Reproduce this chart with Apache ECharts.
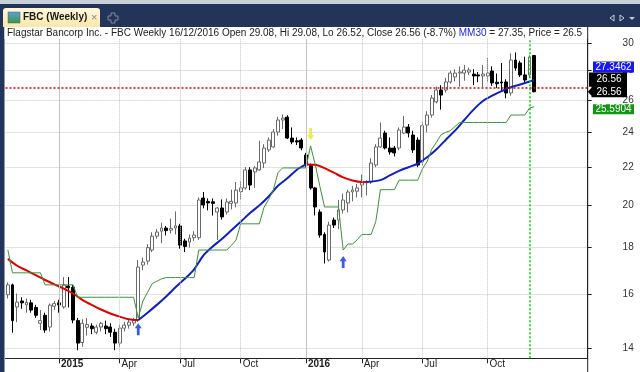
<!DOCTYPE html>
<html><head><meta charset="utf-8">
<script src="https://cdn.jsdelivr.net/npm/echarts@6/dist/echarts.min.js"></script>
<style>html,body{margin:0;padding:0;background:#fff;overflow:hidden}#c{width:640px;height:372px}</style>
</head><body><div id="c"></div>
<script>
// ---------- DATA ----------
// weekly categories (Fridays), incl. empty weeks on the right
const categories = [];
(function () {
  let t = Date.UTC(2014, 9, 17);
  for (let i = 0; i < 125; i++) { categories.push(new Date(t).toISOString().slice(0, 10)); t += 7 * 864e5; }
})();
const tickIndex = [11, 24, 37, 50, 64, 76, 89, 103];
const tickLabels = ['2015', 'Apr', 'Jul', 'Oct', '2016', 'Apr', 'Jul', 'Oct'];
const yearTickIndex = [11, 64];
const priceTicks = [14, 16, 18, 20, 22, 24, 26, 28, 30];

const opens = [16.0,16.4,15.52,15.75,15.6,15.68,15.5,14.9,15.2,14.76,15.55,15.68,15.52,16.35,16.3,15.0,14.2,14.75,14.8,14.57,14.76,14.8,14.76,14.57,14.18,14.72,14.83,14.91,
15.02,17.23,17.4,17.89,18.52,18.75,18.9,18.8,18.9,19.0,18.3,18.25,18.45,18.45,20.37,20.2,20.18,19.67,19.87,19.67,20.1,20.12,20.7,20.89,21.85,21.74,21.85,22.23,22.97,23.14,24.02,24.75,24.93,23.66,23.5,23.54,
22.68,22.12,20.89,19.67,18.6,17.45,19.28,19.28,19.77,20.12,20.68,20.72,21.04,21.15,21.2,22.12,23.14,23.96,23.08,23.08,23.08,23.96,24.32,23.84,23.54,22.3,24.44,25.06,25.9,26.68,26.68,27.22,27.56,27.83,27.83,27.9,
27.76,27.7,27.63,27.63,27.97,27.2,27.22,27.22,26.48,28.75,28.54,27.7,27.7,29.08];
const highs = [16.5,16.45,16.05,15.9,15.85,15.8,15.6,15.4,15.3,15.65,15.75,15.8,16.72,16.72,16.4,15.1,15.05,15.1,14.9,14.85,14.95,15.0,14.9,14.7,14.85,14.95,15.05,15.1,
17.45,17.55,18.15,18.7,18.85,19.15,19.0,19.35,19.7,19.1,18.4,18.6,18.75,20.4,20.68,20.35,20.35,19.92,20.3,20.35,20.8,21.2,21.25,22.0,22.0,22.05,23.5,23.3,23.7,24.2,24.95,25.1,25.05,24.3,23.7,23.66,
22.8,22.2,20.95,19.8,18.7,19.2,19.4,20.27,20.6,20.8,21.0,21.1,21.6,21.3,22.5,23.3,24.6,24.1,23.7,23.2,24.3,25.0,24.5,24.1,23.7,24.6,25.3,26.35,26.9,27.0,27.5,28.0,28.1,28.3,28.4,28.2,
28.1,27.9,28.4,28.9,28.3,27.8,28.54,27.4,29.24,29.3,28.7,28.99,29.1,29.08];
const lows = [15.85,14.55,14.94,15.45,15.3,15.3,15.1,14.65,14.55,14.6,15.4,15.3,15.45,15.5,14.9,13.93,14.05,14.45,14.5,14.5,14.6,14.5,14.4,13.93,14.05,14.6,14.7,14.8,
14.95,17.01,17.25,17.8,18.4,18.2,18.55,18.65,18.6,17.95,17.8,18.0,18.3,18.35,19.85,19.75,19.5,18.34,19.3,19.55,19.8,19.9,20.3,20.8,20.78,20.89,21.8,21.95,22.85,23.1,23.8,24.2,23.6,23.3,23.25,22.95,
22.0,20.8,19.5,18.45,17.3,17.38,18.9,18.85,19.6,19.65,20.2,20.4,20.4,20.5,21.1,22.0,23.1,23.0,22.7,22.6,22.95,23.9,23.7,22.8,22.0,22.1,24.0,24.9,25.8,25.4,26.5,27.1,27.25,26.9,27.3,27.7,
27.0,27.2,26.85,27.2,26.95,26.8,26.6,26.13,26.3,28.0,27.55,27.1,27.5,26.52];
const closes = [16.4,15.0,15.71,15.68,15.7,15.4,15.2,15.0,14.65,15.59,15.65,15.6,16.39,16.28,15.02,14.18,14.9,14.85,14.7,14.76,14.9,14.7,14.57,14.18,14.72,14.83,14.94,15.02,
17.14,17.36,18.0,18.52,18.71,18.9,18.78,18.88,19.0,18.11,18.05,18.43,18.57,20.27,20.02,20.12,20.1,19.87,19.43,20.17,20.2,20.78,20.89,21.85,21.04,21.96,22.29,23.08,23.54,24.02,24.75,24.87,23.66,23.43,23.43,23.08,
22.12,20.89,19.92,18.57,17.8,19.04,19.04,19.77,20.27,20.68,20.78,20.89,21.2,21.2,22.23,23.14,23.66,23.08,22.85,22.8,24.14,24.32,23.96,22.97,22.12,24.4,25.06,26.15,26.68,26.34,27.22,27.83,27.83,27.9,28.04,28.04,
27.63,27.63,27.76,27.83,27.15,27.1,27.15,26.48,28.75,28.18,27.7,27.35,28.97,26.56];

// 30-week moving average (read every other week), split by trend colour
const maFallingA = [[0,17.5],[2,17.2],[4,17.0],[6,16.8],[8,16.6],[10,16.42],[12,16.25],[14,16.05],[16,15.8],[18,15.6],[20,15.42],[22,15.27],[24,15.15],[26,15.05],[28,15.02]];
const maRisingA = [[28,15.02],[30,15.3],[32,15.6],[34,15.93],[36,16.3],[38,16.65],[40,17.05],[42,17.65],[44,18.05],[46,18.4],[48,18.8],[50,19.2],[52,19.62],[54,20.0],[56,20.45],[58,21.0],[60,21.4],[62,21.85],[64,22.15]];
const maFallingB = [[64,22.15],[66,22.13],[68,21.95],[70,21.7],[72,21.45],[74,21.28],[76,21.2],[77,21.2]];
const maRisingB = [[77,21.2],[80,21.3],[82,21.55],[84,21.8],[86,22.0],[88,22.2],[90,22.55],[92,23.0],[94,23.55],[96,24.1],[98,24.75],[100,25.4],[102,25.95],[104,26.3],[106,26.6],[108,26.87],[110,27.05],[112,27.25],[113,27.35]];

// trailing stop (green)
const stopValues = [17.9,16.9,16.9,16.9,16.9,16.9,16.9,16.9,16.4,16.4,16.4,16.4,16.4,16.4,16.4,15.9,15.9,15.9,15.9,15.9,15.9,15.9,15.9,15.9,15.9,15.9,15.9,15.9,
15.1,15.75,16.1,16.45,16.55,16.65,16.7,16.7,16.7,16.7,16.7,16.7,16.7,17.89,17.89,17.89,17.89,17.89,17.89,17.89,18.1,18.34,19.1,19.1,19.1,19.1,19.1,19.9,20.3,20.78,21.7,21.96,21.96,21.96,21.96,21.96,
21.96,23.2,22.15,20.97,19.92,19.92,19.92,19.92,17.89,18.16,18.16,18.35,18.6,18.6,18.6,19.2,20.8,20.8,20.8,20.8,21.3,21.3,21.3,21.3,21.3,21.9,22.3,23.0,23.4,23.85,24.0,24.1,24.35,24.6,24.6,24.6,
24.6,24.6,24.6,24.6,24.6,24.6,24.6,24.6,25.06,25.06,25.06,25.06,25.5,25.59];

const buySignals = [[28, 14.68], [72, 17.36]];
const sellSignals = [[65, 23.9]];
const priceLine = 26.8;
const cursorIndex = 112;
const lastMA = 27.3462, lastClose = 26.56, lastStop = 25.5904;
const titleMain = 'Flagstar Bancorp Inc. - FBC Weekly 16/12/2016 Open 29.08, Hi 29.08, Lo 26.52, Close 26.56 (-8.7%) ';
const titleTail = ' = 27.35, Price = 26.5';

// ---------- CHART ----------
const FONT = '"Liberation Sans", Arial, sans-serif';
const chart = echarts.init(document.getElementById('c'), null, { renderer: 'canvas' });
const candleData = opens.map((o, i) => [o, closes[i], lows[i], highs[i]]);
const tickFn = (i) => tickIndex.indexOf(i) >= 0;
const arrowPath = 'path://M4,0 L8,6 L5.6,6 L5.6,14 L2.4,14 L2.4,6 L0,6 Z';

const gridLines = tickIndex.map(i => ({
  xAxis: categories[i],
  lineStyle: yearTickIndex.indexOf(i) >= 0 ? { type: 'solid', color: '#c4c4c4', width: 1 } : { type: 'dotted', color: '#c4c4c4', width: 1 }
}));

function maSeries(data, color) {
  return { type: 'line', data: data, showSymbol: false, smooth: 0.3, z: 4,
    lineStyle: { color: color, width: 2 }, itemStyle: { color: color }, silent: true };
}

const option = {
  animation: false,
  backgroundColor: '#ffffff',
  grid: { left: 5.5, right: 52.3, top: 39, bottom: 13.7, containLabel: false, outerBoundsMode: 'none' },
  xAxis: {
    type: 'category', data: categories, boundaryGap: true,
    axisLine: { show: true, lineStyle: { color: '#222', width: 1 } },
    axisTick: { show: true, interval: tickFn, alignWithLabel: true, length: 5, lineStyle: { color: '#222' } },
    axisLabel: {
      show: true, interval: tickFn, align: 'left', margin: 1, padding: [0, 0, 0, 2],
      fontSize: 10, fontFamily: FONT, color: '#222',
      formatter: (v, i) => {
        const k = tickIndex.indexOf(i);
        if (k < 0) return '';
        return /^\d{4}$/.test(tickLabels[k]) ? '{y|' + tickLabels[k] + '}' : tickLabels[k];
      },
      rich: { y: { fontWeight: 'bold', fontSize: 10, fontFamily: FONT, color: '#222' } }
    },
    splitLine: { show: false }
  },
  yAxis: {
    type: 'log', logBase: 10, position: 'right', min: 13.652, max: 30.30, scale: true,
    axisLine: { show: true, lineStyle: { color: '#222', width: 1 } },
    axisTick: { show: true, inside: false, length: 4, customValues: priceTicks, lineStyle: { color: '#222' } },
    axisLabel: { show: true, customValues: priceTicks, align: 'right', margin: 46, fontSize: 10, fontFamily: FONT, color: '#333',
      formatter: v => String(Math.round(v)) },
    splitLine: { show: true, lineStyle: { type: 'dotted', color: '#c4c4c4', width: 1 } }
  },
  series: [
    { type: 'scatter', data: [], z: 1, silent: true,
      markLine: { silent: true, symbol: 'none', label: { show: false }, animation: false,
        data: gridLines.concat([
          { yAxis: priceLine, lineStyle: { type: [2, 2], color: '#e00000', width: 1.5 } },
          { xAxis: categories[cursorIndex], lineStyle: { type: [2, 2], color: '#00cc00', width: 1.5 } }
        ]) } },
    { type: 'candlestick', data: candleData, barWidth: 3.4, z: 3,
      itemStyle: { color: '#ffffff', color0: '#000000', borderColor: '#6a6a6a', borderColor0: '#000000', borderWidth: 1 } },
    maSeries(maFallingA, '#e00000'),
    maSeries(maRisingA, '#1020c0'),
    maSeries(maFallingB, '#e00000'),
    maSeries(maRisingB, '#1020c0'),
    { type: 'line', data: stopValues, showSymbol: false, z: 4, silent: true,
      lineStyle: { color: '#3a923a', width: 1 } },
    { type: 'scatter', data: buySignals, symbol: arrowPath, symbolSize: [7, 12], z: 6,
      itemStyle: { color: '#1030e8' } },
    { type: 'scatter', data: sellSignals, symbol: arrowPath, symbolSize: [7, 12], symbolRotate: 180, z: 6,
      itemStyle: { color: '#f2e21a' } }
  ],
  graphic: [
    { type: 'rect', id: 'tb', shape: { x: 0, y: 0, width: 640, height: 4 }, style: { fill: '#c8d0da' }, z: 100 },
    { type: 'rect', id: 'navy', shape: { x: 0, y: 4, width: 640, height: 23 }, style: { fill: '#22345a' }, z: 100 },
    { type: 'rect', id: 'lb', shape: { x: 0, y: 27, width: 4.5, height: 345 }, style: { fill: '#22345a' }, z: 100 },
    { type: 'rect', id: 'tab', shape: { x: 3, y: 8, width: 97, height: 19, r: [3, 3, 0, 0] },
      style: { fill: new echarts.graphic.LinearGradient(0, 0, 0, 1, [{ offset: 0, color: '#fff8de' }, { offset: 1, color: '#fae7a8' }]) }, z: 101 },
    { type: 'rect', id: 'icon', shape: { x: 8, y: 12, width: 12, height: 11 },
      style: { fill: new echarts.graphic.LinearGradient(0, 0, 0, 1, [{ offset: 0, color: '#5aa0e0' }, { offset: 1, color: '#3a9a3a' }]), stroke: '#557', lineWidth: 0.5 }, z: 102 },
    { type: 'text', id: 'tabtxt', x: 23, y: 17.5, style: { text: 'FBC (Weekly)', font: 'bold 10px ' + FONT, fill: '#1a1a1a', verticalAlign: 'middle' }, z: 102 },
    { type: 'text', id: 'tabx', x: 91, y: 17.5, style: { text: '×', font: '11px ' + FONT, fill: '#888', verticalAlign: 'middle' }, z: 102 },
    { type: 'polygon', id: 'plus', shape: { points: [[111,13],[115,13],[115,16],[118,16],[118,20],[115,20],[115,23],[111,23],[111,20],[108,20],[108,16],[111,16]] },
      style: { fill: 'none', stroke: '#8a8a9a', lineWidth: 1 }, z: 102 },
    { type: 'polygon', id: 'nl', shape: { points: [[614,15],[610,18],[614,21]] }, style: { fill: 'none', stroke: '#c8ccd8' }, z: 102 },
    { type: 'polygon', id: 'nr', shape: { points: [[620,15],[624,18],[620,21]] }, style: { fill: 'none', stroke: '#c8ccd8' }, z: 102 },
    { type: 'polygon', id: 'nd', shape: { points: [[629,17],[635,17],[632,20]] }, style: { fill: '#c8ccd8' }, z: 102 },
    { type: 'rect', id: 'tbar', shape: { x: 4.5, y: 27, width: 583, height: 12 }, style: { fill: '#ffffff' }, z: 100 },
    { type: 'text', id: 'title', x: 7, y: 33.5, z: 101,
      style: { text: '{a|' + titleMain + '}{b|MM30}{a|' + titleTail + '}', verticalAlign: 'middle',
        rich: { a: { font: '10px ' + FONT, fill: '#222' }, b: { font: '10px ' + FONT, fill: '#2424e0' } } } },
    { type: 'line', id: 'axup', shape: { x1: 587.7, y1: 27, x2: 587.7, y2: 372 }, style: { stroke: '#222', lineWidth: 1 }, z: 101 }
  ]
};
chart.setOption(option);

// right-axis value boxes positioned with the library's y scale
const yOf = v => chart.convertToPixel({ yAxisIndex: 0 }, v);
const yMA = yOf(lastMA), yC = yOf(lastClose), yS = yOf(lastStop);
const boxFont = '10px ' + FONT;
chart.setOption({ graphic: [
  { type: 'rect', id: 'bMA', shape: { x: 593, y: yMA - 18.6, width: 41, height: 11 }, style: { fill: '#1818f0' }, z: 110 },
  { type: 'text', id: 'tMA', x: 613.5, y: yMA - 13, style: { text: lastMA.toFixed(4), font: boxFont, fill: '#fff', align: 'center', verticalAlign: 'middle' }, z: 111 },
  { type: 'polygon', id: 'bC', shape: { points: [[589, yC - 19.3], [627, yC - 19.3], [627, yC + 5.5], [591.5, yC + 5.5], [591.5, yC + 4], [587.8, yC], [591.5, yC - 4], [591.5, yC - 5], [589, yC - 5]] }, style: { fill: '#000' }, z: 110 },
  { type: 'text', id: 'tC1', x: 609, y: yC - 12.5, style: { text: lastClose.toFixed(2), font: boxFont, fill: '#fff', align: 'center', verticalAlign: 'middle' }, z: 111 },
  { type: 'text', id: 'tC2', x: 609, y: yC, style: { text: lastClose.toFixed(2), font: boxFont, fill: '#fff', align: 'center', verticalAlign: 'middle' }, z: 111 },
  { type: 'rect', id: 'bS', shape: { x: 593, y: yS - 2.3, width: 41, height: 10 }, style: { fill: '#129512' }, z: 110 },
  { type: 'text', id: 'tS', x: 613.5, y: yS + 2.7, style: { text: lastStop.toFixed(4), font: boxFont, fill: '#fff', align: 'center', verticalAlign: 'middle' }, z: 111 }
] });
</script>
</body></html>
